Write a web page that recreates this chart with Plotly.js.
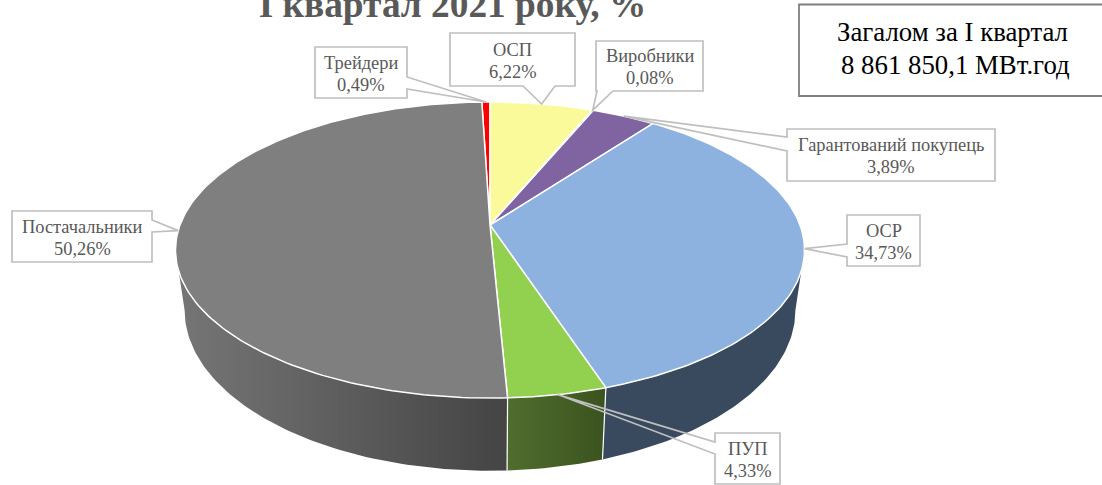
<!DOCTYPE html>
<html>
<head>
<meta charset="utf-8">
<script src="https://cdn.plot.ly/plotly-3.0.1.min.js"></script>
<style>html,body{margin:0;padding:0;background:#fff;overflow:hidden}#chart{width:1102px;height:485px}</style>
</head>
<body>
<div id="chart"></div>
<script>
// Data, in drawing order (clockwise)
const categories = ['Трейдери','ОСП','Виробники','Гарантований покупець','ОСР','ПУП','Постачальники'];
const shares = [0.49,6.22,0.08,3.89,34.73,4.33,50.26];
const titleText = 'І квартал 2021 року, %';
const totalLines = ['Загалом за І квартал','8 861 850,1 МВт.год'];

// Styles
const topColors = ['#FF0000','#FBFA9B','#4BACC6','#8064A2','#8DB2E0','#92D050','#7F7F7F'];
const sideStyles = {
  'ОСР': {flat:'#3A4A5E'},
  'ПУП': {from:'#506D2E', to:'#3B531F'},
  'Постачальники': {from:'#767676', to:'#444444'}
};

// Callout frames: [left, top, right, bottom, side holding the pointer, base start, base end]
const frames = {
  'Трейдери': [315,47,407,98,'r',77,89],
  'ОСП': [450,33,575,86,'b',523,555],
  'Виробники': [596,41,703,91,'b',597,613],
  'Гарантований покупець': [787,129,995,181,'l',137,151],
  'ОСР': [847,215,920,266,'l',244,257],
  'ПУП': [715,433,780,484,'l',442,454],
  'Постачальники': [12,211,152,262,'r',220,232]
};

// Perspective projection of the tilted disc (top face and base)
const K = 0.169;
const topFace = {y0:225, a:143.8, b:310};
const baseFace = {y0:283, a:156, b:301};
const CX = 490;
function proj(face, deg){
  const t = deg*Math.PI/180, u = Math.sin(t), v = Math.cos(t), d = 1+K*v;
  return [CX+face.b*u/d, face.y0-face.a*v/d];
}
function arc(face, t0, t1){
  const pts = [], n = Math.max(2, Math.ceil(Math.abs(t1-t0)));
  for(let i=0;i<=n;i++) pts.push(proj(face, t0+(t1-t0)*i/n));
  return pts;
}

// Slice angles from the shares: the second slice starts at 12 o'clock
const edges = [];
let acc = -shares[0]*3.6;
shares.forEach(s => { edges.push([acc, acc+s*3.6]); acc += s*3.6; });

const silhouette = Math.acos(-K)*180/Math.PI;
const traces = [];

// Visible sides
categories.forEach((c,i) => {
  const st = sideStyles[c]; if(!st) return;
  const t0 = Math.max(edges[i][0], silhouette), t1 = Math.min(edges[i][1], 360-silhouette);
  const pts = arc(topFace,t0,t1).concat(arc(baseFace,t1,t0));
  pts.push(pts[0]);
  const tr = {type:'scatter', mode:'lines', name:c+' (бік)', x:pts.map(p=>p[0]), y:pts.map(p=>p[1]),
    fill:'toself', line:{color:'rgba(0,0,0,0)',width:0}, hoverinfo:'skip', showlegend:false};
  if(st.flat) tr.fillcolor = st.flat;
  else tr.fillgradient = {type:'horizontal', colorscale:[[0,st.from],[1,st.to]]};
  traces.push(tr);
});

// Seams between the visible sides
categories.forEach((c,i) => {
  const t = edges[i][1];
  if(t <= silhouette || t >= 360-silhouette) return;
  const a = proj(topFace,t), b = proj(baseFace,t);
  traces.push({type:'scatter', mode:'lines', x:[a[0],b[0]], y:[a[1],b[1]],
    line:{color:'#FFFFFF',width:1.2}, hoverinfo:'skip', showlegend:false});
});

// Top face
categories.forEach((c,i) => {
  const apex = [CX, topFace.y0];
  const all = [apex].concat(arc(topFace,edges[i][0],edges[i][1]));
  all.push(apex);
  traces.push({type:'scatter', mode:'lines', name:c, x:all.map(p=>p[0]), y:all.map(p=>p[1]),
    fill:'toself', fillcolor:topColors[i], line:{color:'#FFFFFF',width:c==='Виробники'?0.5:1.5},
    text:c+': '+shares[i].toFixed(2).replace('.',',')+'%', hoverinfo:'text', showlegend:false});
});

// Callouts: pointer tip is the middle of each slice on the top rim
const fmt = v => v.toFixed(2).replace('.',',')+'%';
const shapes = [], annotations = [];
const LABEL = {family:'"Liberation Serif", serif', size:18.4, color:'#595959'};
categories.forEach((c,i) => {
  const [l,t,r,b,side,b0,b1] = frames[c];
  const tip = proj(topFace,(edges[i][0]+edges[i][1])/2);
  const T = tip[0]+' '+tip[1];
  let p;
  if(side==='r') p = `M${l} ${t}L${r} ${t}L${r} ${b0}L${T}L${r} ${b1}L${r} ${b}L${l} ${b}Z`;
  if(side==='l') p = `M${l} ${t}L${r} ${t}L${r} ${b}L${l} ${b}L${l} ${b1}L${T}L${l} ${b0}Z`;
  if(side==='b') p = `M${l} ${t}L${r} ${t}L${r} ${b}L${b1} ${b}L${T}L${b0} ${b}L${l} ${b}Z`;
  shapes.push({type:'rect', xref:'x', yref:'y', x0:l, x1:r, y0:t, y1:b, fillcolor:'#FFFFFF', line:{width:0}, layer:'above'});
  shapes.push({type:'path', xref:'x', yref:'y', path:p, fillcolor:'rgba(0,0,0,0)', line:{color:'#BFBFBF',width:1.7}, layer:'above'});
  const mx = (l+r)/2, my = (t+b)/2;
  annotations.push({xref:'x',yref:'y',x:mx,y:my-10,text:c,showarrow:false,font:LABEL,xanchor:'center',yanchor:'middle'});
  annotations.push({xref:'x',yref:'y',x:mx,y:my+12,text:fmt(shares[i]),showarrow:false,font:LABEL,xanchor:'center',yanchor:'middle'});
});

// Total box
shapes.push({type:'rect',xref:'x',yref:'y',x0:799,x1:1110,y0:4.5,y1:96,fillcolor:'#FFFFFF',line:{color:'#7F7F7F',width:1.8},layer:'above'});
const TOTAL = {family:'"Liberation Serif", serif', size:26.8, color:'#000000'};
annotations.push({xref:'x',yref:'y',x:952,y:32,text:totalLines[0],showarrow:false,font:TOTAL,xanchor:'center',yanchor:'middle'});
annotations.push({xref:'x',yref:'y',x:955,y:65,text:totalLines[1],showarrow:false,font:TOTAL,xanchor:'center',yanchor:'middle'});

const layout = {
  width:1102, height:485, autosize:false,
  margin:{l:0,r:0,t:0,b:0,pad:0},
  paper_bgcolor:'#FFFFFF', plot_bgcolor:'#FFFFFF',
  showlegend:false,
  title:{text:titleText, x:452.5/1102, xanchor:'center', y:1-17/485, yanchor:'bottom',
         font:{family:'"Liberation Serif", serif', size:37.3, color:'#595959', weight:700}},
  xaxis:{visible:false, range:[0,1102], fixedrange:true},
  yaxis:{visible:false, range:[485,0], fixedrange:true},
  shapes, annotations
};
Plotly.newPlot('chart', traces, layout, {displayModeBar:false, responsive:false});
</script>
</body>
</html>
